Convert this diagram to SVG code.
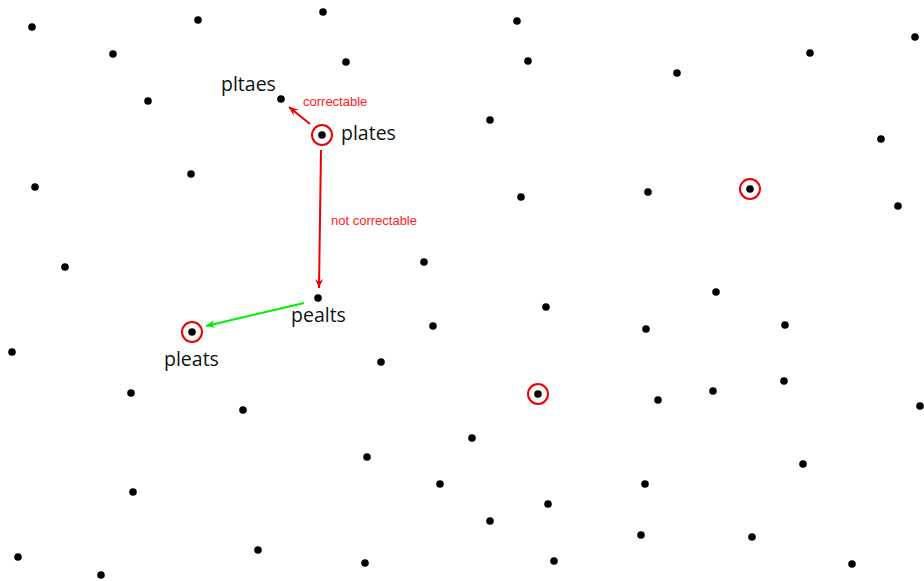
<svg xmlns="http://www.w3.org/2000/svg" width="924" height="581" viewBox="0 0 924 581">
<style>
.d{fill:#000}
.ring{fill:none;stroke:#e00;stroke-width:2}
.lbl{font-family:"Open Sans","Liberation Sans",sans-serif;font-size:19.5px;fill:#111}
.sm{font-family:"Liberation Sans",sans-serif;font-size:13px;fill:#f22}
.red{stroke:#e00;stroke-width:2;fill:none}
.grn{stroke:#0e0;stroke-width:2;fill:none}
</style>
<defs>
<marker id="ar" viewBox="-10 -5 12 10" refX="0" refY="0" markerWidth="12" markerHeight="10" markerUnits="userSpaceOnUse" orient="auto">
<path d="M0,0 L-9,-4 L-6,0 L-9,4 Z" fill="#e00"/>
</marker>
<marker id="ag" viewBox="-10 -5 12 10" refX="0" refY="0" markerWidth="12" markerHeight="10" markerUnits="userSpaceOnUse" orient="auto">
<path d="M0,0 L-9,-4 L-6,0 L-9,4 Z" fill="#0e0"/>
</marker>
</defs>
<g id="dots">
<circle class="d" cx="32" cy="27" r="3.8"/><circle class="d" cx="198" cy="20" r="3.8"/><circle class="d" cx="323" cy="12" r="3.8"/><circle class="d" cx="517" cy="21" r="3.8"/><circle class="d" cx="915" cy="37" r="3.8"/>
<circle class="d" cx="113" cy="54" r="3.8"/><circle class="d" cx="346" cy="62" r="3.8"/><circle class="d" cx="528" cy="61" r="3.8"/><circle class="d" cx="810" cy="53" r="3.8"/><circle class="d" cx="677" cy="73" r="3.8"/>
<circle class="d" cx="148" cy="101" r="3.8"/><circle class="d" cx="490" cy="120" r="3.8"/><circle class="d" cx="881" cy="139" r="3.8"/>
<circle class="d" cx="35" cy="187" r="3.8"/><circle class="d" cx="191" cy="174" r="3.8"/><circle class="d" cx="521" cy="197" r="3.8"/><circle class="d" cx="648" cy="192" r="3.8"/><circle class="d" cx="898" cy="206" r="3.8"/>
<circle class="d" cx="65" cy="267" r="3.8"/><circle class="d" cx="424" cy="262" r="3.8"/><circle class="d" cx="716" cy="292" r="3.8"/><circle class="d" cx="546" cy="307" r="3.8"/><circle class="d" cx="433" cy="326" r="3.8"/><circle class="d" cx="646" cy="329" r="3.8"/><circle class="d" cx="785" cy="325" r="3.8"/>
<circle class="d" cx="12" cy="352" r="3.8"/><circle class="d" cx="381" cy="362" r="3.8"/><circle class="d" cx="131" cy="393" r="3.8"/><circle class="d" cx="243" cy="410" r="3.8"/><circle class="d" cx="658" cy="400" r="3.8"/><circle class="d" cx="713" cy="391" r="3.8"/><circle class="d" cx="784" cy="381" r="3.8"/><circle class="d" cx="920" cy="406" r="3.8"/>
<circle class="d" cx="472" cy="438" r="3.8"/><circle class="d" cx="367" cy="457" r="3.8"/><circle class="d" cx="803" cy="464" r="3.8"/><circle class="d" cx="440" cy="484" r="3.8"/><circle class="d" cx="645" cy="484" r="3.8"/><circle class="d" cx="133" cy="492" r="3.8"/>
<circle class="d" cx="548" cy="504" r="3.8"/><circle class="d" cx="490" cy="521" r="3.8"/><circle class="d" cx="641" cy="535" r="3.8"/><circle class="d" cx="752" cy="537" r="3.8"/>
<circle class="d" cx="18" cy="557" r="3.8"/><circle class="d" cx="258" cy="550" r="3.8"/><circle class="d" cx="365" cy="563" r="3.8"/><circle class="d" cx="554" cy="561" r="3.8"/><circle class="d" cx="852" cy="564" r="3.8"/><circle class="d" cx="101" cy="575" r="3.8"/>
</g>
<g id="circled-1"><circle class="ring" cx="750" cy="189" r="10"/><circle class="d" cx="750" cy="189" r="3.8"/></g>
<g id="circled-2"><circle class="ring" cx="538" cy="394" r="10"/><circle class="d" cx="538" cy="394" r="3.8"/></g>
<g id="pltaes"><circle class="d" cx="281" cy="99" r="3.8"/><text class="lbl" x="221" y="91">pltaes</text></g>
<g id="plates"><circle class="ring" cx="322" cy="135" r="10"/><circle class="d" cx="322" cy="135" r="3.8"/><text class="lbl" x="341" y="140">plates</text></g>
<g id="pealts"><circle class="d" cx="318" cy="298" r="3.8"/><text class="lbl" x="291" y="322">pealts</text></g>
<g id="pleats"><circle class="ring" cx="192" cy="332" r="10"/><circle class="d" cx="192" cy="332" r="3.8"/><text class="lbl" x="164" y="366">pleats</text></g>
<g id="connectors">
<line class="red" x1="310" y1="124" x2="289" y2="107" marker-end="url(#ar)"/>
<line class="red" x1="321" y1="150" x2="319" y2="288" marker-end="url(#ar)"/>
<line class="grn" x1="304" y1="303" x2="206" y2="326" marker-end="url(#ag)"/>
<text class="sm" x="303" y="106">correctable</text>
<text class="sm" x="331" y="225">not correctable</text>
</g>
</svg>
